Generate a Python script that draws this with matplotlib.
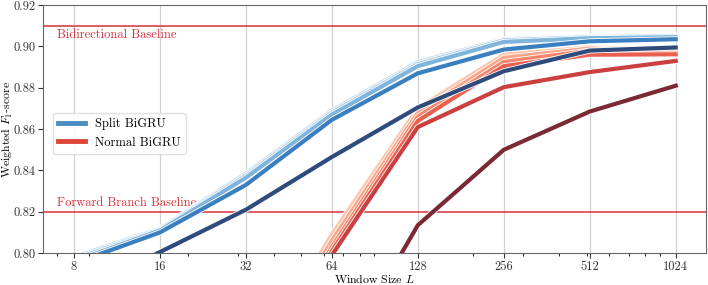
import matplotlib.pyplot as plt
import matplotlib.patheffects as pe
from matplotlib.ticker import NullFormatter

plt.rcParams['font.family'] = ['cmr10', 'DejaVu Serif']
plt.rcParams['mathtext.fontset'] = 'cm'
plt.rcParams['axes.unicode_minus'] = False

# window sizes
sizes = [8, 16, 32, 64, 128, 256, 512, 1024]

# Split BiGRU runs (lightest -> darkest)
split_runs = [
    [0.798, 0.8120, 0.8385, 0.8690, 0.8925, 0.9035, 0.9048, 0.9052],
    [0.797, 0.8115, 0.8375, 0.8680, 0.8915, 0.9030, 0.9045, 0.9050],
    [0.796, 0.8110, 0.8365, 0.8670, 0.8905, 0.9022, 0.9040, 0.9045],
    [0.795, 0.8100, 0.8330, 0.8645, 0.8870, 0.8985, 0.9025, 0.9035],
    [0.780, 0.8005, 0.8210, 0.8465, 0.8705, 0.8880, 0.8980, 0.8995],
]
split_colors = ['#c6dbef', '#a9cce6', '#7fb5dc', '#3a7fc0', '#2f4b7c']

# Normal BiGRU runs (lightest -> darkest)
normal_runs = [
    [0.740, 0.8090, 0.8700, 0.8960, 0.8995, 0.8980],
    [0.736, 0.8060, 0.8680, 0.8945, 0.8990, 0.8975],
    [0.732, 0.8030, 0.8660, 0.8925, 0.8980, 0.8970],
    [0.728, 0.8010, 0.8640, 0.8905, 0.8960, 0.8962],
    [0.724, 0.7990, 0.8610, 0.8803, 0.8876, 0.8930],
    [0.680, 0.7420, 0.8135, 0.8500, 0.8685, 0.8810],
]
normal_sizes = [32, 64, 128, 256, 512, 1024]
normal_colors = ['#fcc5ad', '#fca487', '#f7846a', '#e9604f', '#c9403f', '#7b2a35']

bidir_baseline = 0.91
forward_baseline = 0.82

fig = plt.figure(figsize=(7.08, 2.85), dpi=100)
ax = fig.add_axes([0.061, 0.112, 0.936, 0.870])

stroke = [pe.Stroke(linewidth=4.2, foreground='white'), pe.Normal()]
for vals, c in zip(normal_runs, normal_colors):
    ax.plot(normal_sizes, vals, color=c, lw=3, path_effects=stroke, zorder=3)
for vals, c in zip(split_runs, split_colors):
    ax.plot(sizes, vals, color=c, lw=3, path_effects=stroke, zorder=4)

ax.axhline(bidir_baseline, color='#d7303a', lw=1.1, zorder=2)
ax.axhline(forward_baseline, color='#d7303a', lw=1.1, zorder=2)
ax.text(7.0, 0.9085, 'Bidirectional Baseline', color='#d7303a', fontsize=9, va='top')
ax.text(7.0, 0.8215, 'Forward Branch Baseline', color='#d7303a', fontsize=9, va='bottom')

ax.set_xscale('log')
ax.set_xlim(6.24, 1306)
ax.set_ylim(0.80, 0.92)
ax.set_xticks(sizes)
ax.set_xticklabels([str(s) for s in sizes])
ax.xaxis.set_minor_formatter(NullFormatter())
ax.set_yticks([0.80, 0.82, 0.84, 0.86, 0.88, 0.90, 0.92])
ax.set_yticklabels(['0.80', '0.82', '0.84', '0.86', '0.88', '0.90', '0.92'])
ax.tick_params(labelsize=9, colors='#333333', pad=2)
ax.tick_params(axis='x', which='minor', length=2)
ax.grid(True, axis='x', which='major', color='#d0d0d0', lw=0.9)
ax.set_axisbelow(True)
for s in ax.spines.values():
    s.set_color('#666666')

ax.set_xlabel('Window Size $L$', fontsize=8.5)
ax.set_ylabel('Weighted $F_1$-score', fontsize=8.5)
ax.xaxis.set_label_coords(0.5, -0.078)
ax.yaxis.set_label_coords(-0.042, 0.5)

h1, = ax.plot([], [], color='#4a8cc4', lw=3.5)
h2, = ax.plot([], [], color='#dd4539', lw=3.5)
ax.legend([h1, h2], ['Split BiGRU', 'Normal BiGRU'], loc='upper left',
          bbox_to_anchor=(0.005, 0.59), fontsize=9, handlelength=2.2,
          framealpha=0.9, edgecolor='#dddddd')

fig.savefig('out.png', dpi=100)
